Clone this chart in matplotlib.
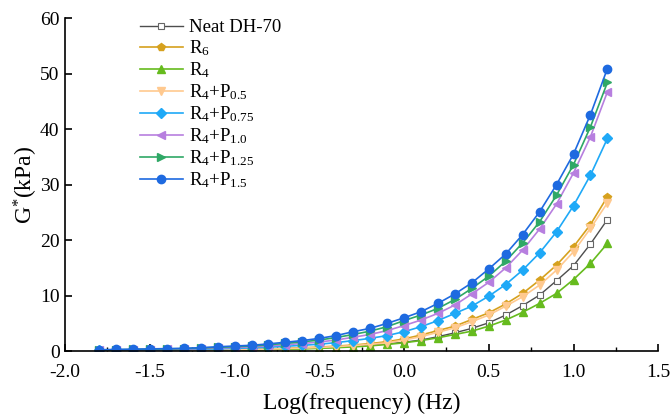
import numpy as np
import matplotlib
matplotlib.use('Agg')
import matplotlib.pyplot as plt
from matplotlib.ticker import MultipleLocator

# log frequency, -1.8 .. 1.2 in 0.1 steps
log_freq = [-1.8, -1.7, -1.6, -1.5, -1.4, -1.3, -1.2, -1.1, -1.0, -0.9, -0.8,
            -0.7, -0.6, -0.5, -0.4, -0.3, -0.2, -0.1, 0.0, 0.1, 0.2, 0.3,
            0.4, 0.5, 0.6, 0.7, 0.8, 0.9, 1.0, 1.1, 1.2]

neat = [0.05, 0.06, 0.07, 0.08, 0.10, 0.12, 0.14, 0.17, 0.21, 0.25, 0.31,
        0.38, 0.46, 0.56, 0.70, 0.86, 1.05, 1.3, 1.6, 2.0, 2.6, 3.3,
        4.1, 5.1, 6.5, 8.2, 10.1, 12.7, 15.4, 19.3, 23.7]
r6 = [0.07, 0.09, 0.11, 0.13, 0.15, 0.17, 0.20, 0.24, 0.29, 0.34, 0.41,
      0.50, 0.60, 0.73, 0.90, 1.10, 1.36, 1.7, 2.2, 2.9, 3.7, 4.5,
      5.7, 6.9, 8.5, 10.4, 12.8, 15.5, 18.8, 22.8, 27.8]
r4 = [0.04, 0.05, 0.06, 0.07, 0.08, 0.10, 0.12, 0.15, 0.18, 0.22, 0.27,
      0.33, 0.40, 0.50, 0.62, 0.76, 0.95, 1.2, 1.5, 1.9, 2.4, 3.0,
      3.6, 4.5, 5.6, 7.0, 8.6, 10.4, 12.9, 15.8, 19.4]
r4_p05 = [0.06, 0.08, 0.10, 0.12, 0.14, 0.16, 0.18, 0.22, 0.26, 0.31, 0.37,
          0.45, 0.54, 0.66, 0.81, 1.0, 1.22, 1.5, 2.0, 2.6, 3.4, 4.2,
          5.3, 6.5, 8.1, 9.8, 11.9, 14.6, 17.9, 22.1, 26.7]
r4_p075 = [0.12, 0.15, 0.18, 0.21, 0.24, 0.28, 0.34, 0.42, 0.50, 0.58, 0.71,
           0.87, 1.04, 1.25, 1.53, 1.9, 2.3, 2.8, 3.5, 4.4, 5.5, 6.8,
           8.1, 9.9, 12.0, 14.6, 17.7, 21.5, 26.2, 31.7, 38.3]
r4_p10 = [0.16, 0.20, 0.24, 0.28, 0.32, 0.37, 0.45, 0.55, 0.65, 0.76, 0.93,
          1.15, 1.37, 1.65, 2.0, 2.5, 3.0, 3.7, 4.6, 5.6, 6.8, 8.3,
          10.3, 12.4, 15.0, 18.2, 22.0, 26.5, 32.1, 38.6, 46.7]
r4_p125 = [0.20, 0.25, 0.30, 0.35, 0.40, 0.45, 0.55, 0.68, 0.80, 0.92, 1.14,
           1.40, 1.67, 2.0, 2.45, 3.0, 3.6, 4.4, 5.5, 6.5, 7.7, 9.3,
           11.3, 13.5, 16.2, 19.5, 23.3, 28.1, 33.6, 40.4, 48.4]
r4_p15 = [0.25, 0.30, 0.35, 0.40, 0.45, 0.50, 0.62, 0.78, 0.92, 1.05, 1.3,
          1.6, 1.9, 2.3, 2.8, 3.5, 4.1, 5.0, 6.0, 7.1, 8.6, 10.3,
          12.3, 14.8, 17.5, 21.0, 25.1, 30.0, 35.5, 42.6, 50.9]

labels = ['Neat DH-70', r'R$_6$', r'R$_4$', r'R$_4$+P$_{0.5}$',
          r'R$_4$+P$_{0.75}$', r'R$_4$+P$_{1.0}$', r'R$_4$+P$_{1.25}$',
          r'R$_4$+P$_{1.5}$']
series = [neat, r6, r4, r4_p05, r4_p075, r4_p10, r4_p125, r4_p15]
colors = ['#4d4d4d', '#d6a11e', '#66bb1e', '#ffc98f', '#1fa9f7',
          '#b77fdf', '#2fa866', '#1e6ae0']
markers = ['s', 'p', '^', 'v', 'D', '<', '>', 'o']

plt.rcParams['font.family'] = 'Liberation Serif'
plt.rcParams['mathtext.fontset'] = 'custom'
plt.rcParams['mathtext.rm'] = 'Liberation Serif'
plt.rcParams['mathtext.it'] = 'Liberation Serif:italic'

fig = plt.figure(figsize=(6.71, 4.19), dpi=100)
ax = fig.add_axes([0.097, 0.162, 0.884, 0.795])

for ys, lab, c, m in zip(series, labels, colors, markers):
    msize = 5 if m in ('D',) else 6
    if m == 's':
        ax.plot(log_freq, ys, color=c, lw=1.0, marker=m, ms=5,
                mfc='white', mec='#666666', mew=0.8, label=lab)
    else:
        ax.plot(log_freq, ys, color=c, lw=1.2, marker=m, ms=msize,
                mec=c, label=lab)

ax.set_xlim(-2.0, 1.5)
ax.set_ylim(0, 60)
ax.xaxis.set_major_locator(MultipleLocator(0.5))
ax.xaxis.set_minor_locator(MultipleLocator(0.25))
ax.yaxis.set_major_locator(MultipleLocator(10))
ax.xaxis.set_major_formatter(matplotlib.ticker.FormatStrFormatter('%.1f'))
ax.tick_params(direction='in', labelsize=14, width=1.2, length=5)
ax.tick_params(axis='x', pad=9)
ax.tick_params(axis='y', pad=4)
ax.tick_params(which='minor', direction='in', width=1.0, length=3)
ax.spines['top'].set_visible(False)
ax.spines['right'].set_visible(False)
ax.spines['left'].set_linewidth(1.2)
ax.spines['bottom'].set_linewidth(1.2)

ax.set_xlabel('Log(frequency) (Hz)', fontsize=17, labelpad=9)
ax.set_ylabel(r'G$^{*}$(kPa)', fontsize=17, labelpad=0)

ax.legend(loc='upper left', bbox_to_anchor=(0.107, 1.03), frameon=False,
          fontsize=13.5, handlelength=2.3, labelspacing=0.12,
          handletextpad=0.3, borderaxespad=0.2)

fig.savefig('out.png', dpi=100)
